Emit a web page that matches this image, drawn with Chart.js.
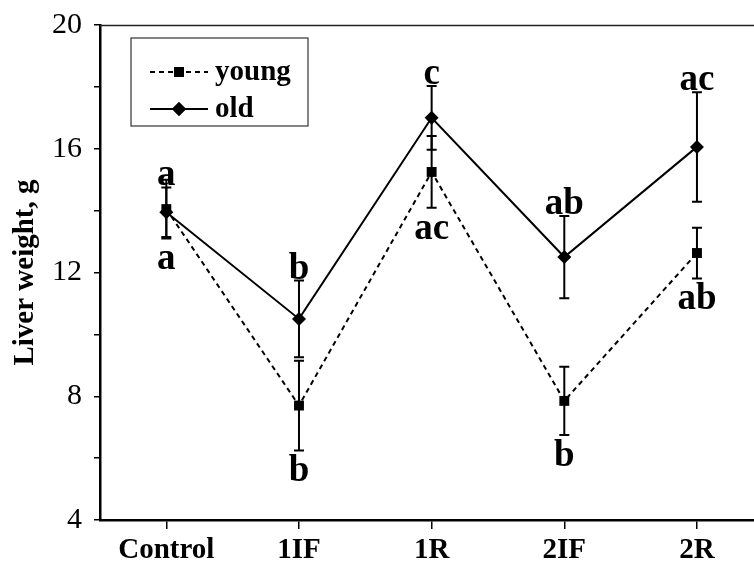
<!DOCTYPE html>
<html>
<head>
<meta charset="utf-8">
<script src="https://cdn.jsdelivr.net/npm/chart.js@4"></script>
<style>
  html, body { margin: 0; padding: 0; background: #fff; }
  #wrap { width: 754px; height: 564px; }
</style>
</head>
<body>
<div id="wrap"><canvas id="chart" width="754" height="564"></canvas></div>
<script>
// groups on the x axis
const groups = ['Control', '1IF', '1R', '2IF', '2R'];

// young animals: mean, error, significance letters
const youngMean = [14.05, 7.7, 15.25, 7.85, 12.63];
const youngErr  = [0.95, 1.45, 1.16, 1.1, 0.82];
const youngTags = ['a', 'b', 'ac', 'b', 'ab'];

// old animals
const oldMean = [13.95, 10.5, 17.0, 12.5, 16.06];
const oldErr  = [0.8, 1.24, 1.03, 1.33, 1.77];
const oldTags = ['a', 'b', 'c', 'ab', 'ac'];

const yTickLabels = [4, 8, 12, 16, 20];

const serif = "'Liberation Serif', 'Times New Roman', serif";
const toPoints = arr => arr.map((v, i) => ({ x: i, y: v }));

// vertical error bars with caps
const errorBars = {
  id: 'errorBars',
  afterDatasetsDraw(chart) {
    const { ctx, scales: { x, y } } = chart;
    ctx.save();
    ctx.strokeStyle = '#000';
    ctx.lineWidth = 2;
    chart.data.datasets.forEach(ds => {
      ds.data.forEach((p, i) => {
        const px = x.getPixelForValue(p.x);
        const top = y.getPixelForValue(p.y + ds.errors[i]);
        const bot = y.getPixelForValue(p.y - ds.errors[i]);
        ctx.beginPath();
        ctx.moveTo(px, top); ctx.lineTo(px, bot);
        ctx.moveTo(px - 5, top); ctx.lineTo(px + 5, top);
        ctx.moveTo(px - 5, bot); ctx.lineTo(px + 5, bot);
        ctx.stroke();
      });
    });
    ctx.restore();
  }
};

// letters above (old) or below (young) the error bars
const groupLetters = {
  id: 'groupLetters',
  afterDraw(chart) {
    const { ctx, scales: { x, y } } = chart;
    ctx.save();
    ctx.fillStyle = '#000';
    ctx.font = 'bold 37px ' + serif;
    ctx.textAlign = 'center';
    ctx.textBaseline = 'alphabetic';
    chart.data.datasets.forEach(ds => {
      ds.data.forEach((p, i) => {
        const px = x.getPixelForValue(p.x);
        if (ds.tagsAbove) {
          ctx.fillText(ds.tags[i], px, y.getPixelForValue(p.y + ds.errors[i]) - 2);
        } else {
          ctx.fillText(ds.tags[i], px, y.getPixelForValue(p.y - ds.errors[i]) + 31);
        }
      });
    });
    ctx.restore();
  }
};

// top frame line and boxed legend
const frameAndLegend = {
  id: 'frameAndLegend',
  afterDraw(chart) {
    const { ctx, chartArea: a } = chart;
    ctx.save();
    ctx.strokeStyle = '#222';
    ctx.lineWidth = 1.5;
    ctx.beginPath();
    ctx.moveTo(a.left, a.top + 0.5);
    ctx.lineTo(a.right, a.top + 0.5);
    ctx.stroke();

    ctx.strokeStyle = '#333';
    ctx.lineWidth = 1.2;
    ctx.strokeRect(131, 38, 177, 88);

    const rows = [72, 109];
    chart.data.datasets.forEach((ds, k) => {
      const ry = rows[k];
      ctx.strokeStyle = '#000';
      ctx.lineWidth = 2;
      ctx.setLineDash(ds.borderDash || []);
      ctx.beginPath();
      ctx.moveTo(150, ry); ctx.lineTo(208, ry);
      ctx.stroke();
      ctx.setLineDash([]);
      Chart.helpers.drawPoint(ctx, {
        pointStyle: ds.pointStyle, radius: ds.pointRadius, borderWidth: 0, rotation: 0
      }, 179, ry);
      ctx.fillStyle = '#000';
      ctx.fill();
      ctx.font = 'bold 29px ' + serif;
      ctx.textAlign = 'left';
      ctx.textBaseline = 'middle';
      ctx.fillText(ds.label, 215, ry + 1);
    });
    ctx.restore();
  }
};

new Chart(document.getElementById('chart'), {
  type: 'line',
  data: {
    datasets: [
      {
        label: 'young',
        data: toPoints(youngMean),
        errors: youngErr,
        tags: youngTags,
        tagsAbove: false,
        borderColor: '#000',
        backgroundColor: '#000',
        borderWidth: 2,
        borderDash: [5, 4],
        pointStyle: 'rect',
        pointRadius: 7,
        pointBorderWidth: 0,
        tension: 0,
      },
      {
        label: 'old',
        data: toPoints(oldMean),
        errors: oldErr,
        tags: oldTags,
        tagsAbove: true,
        borderColor: '#000',
        backgroundColor: '#000',
        borderWidth: 2,
        pointStyle: 'rectRot',
        pointRadius: 7,
        pointBorderWidth: 0,
        tension: 0,
      },
    ],
  },
  options: {
    responsive: false,
    animation: false,
    layout: { autoPadding: false, padding: { top: 25, right: 0, bottom: 0, left: 0 } },
    plugins: { legend: { display: false }, tooltip: { enabled: false } },
    scales: {
      x: {
        type: 'linear',
        min: -0.5,
        max: 4.43,
        afterBuildTicks: s => { s.ticks = groups.map((g, i) => ({ value: i })); },
        afterFit: s => { s.height = 44; s.paddingLeft = 0; s.paddingRight = 0; },
        ticks: {
          callback: v => groups[v],
          color: '#000',
          font: { family: serif, size: 29, weight: 'bold' },
          padding: 4,
          maxRotation: 0,
          autoSkip: false,
        },
        grid: { drawOnChartArea: false, drawTicks: true, tickLength: 9, color: '#000', lineWidth: 1.5 },
        border: { color: '#000', width: 2.5 },
      },
      y: {
        min: 4,
        max: 20,
        afterFit: s => { s.width = 100; s.paddingTop = 0; s.paddingBottom = 0; },
        ticks: {
          stepSize: 2,
          callback: v => (yTickLabels.includes(v) ? v : ''),
          color: '#000',
          font: { family: serif, size: 30 },
          padding: 12,
        },
        grid: { drawOnChartArea: false, drawTicks: true, tickLength: 6, color: '#000', lineWidth: 1.5 },
        border: { color: '#000', width: 2.5 },
        title: {
          display: true,
          text: 'Liver weight, g',
          color: '#000',
          font: { family: serif, size: 29, weight: 'bold' },
          padding: { top: 8, bottom: 0 },
        },
      },
    },
  },
  plugins: [errorBars, groupLetters, frameAndLegend],
});
</script>
</body>
</html>
